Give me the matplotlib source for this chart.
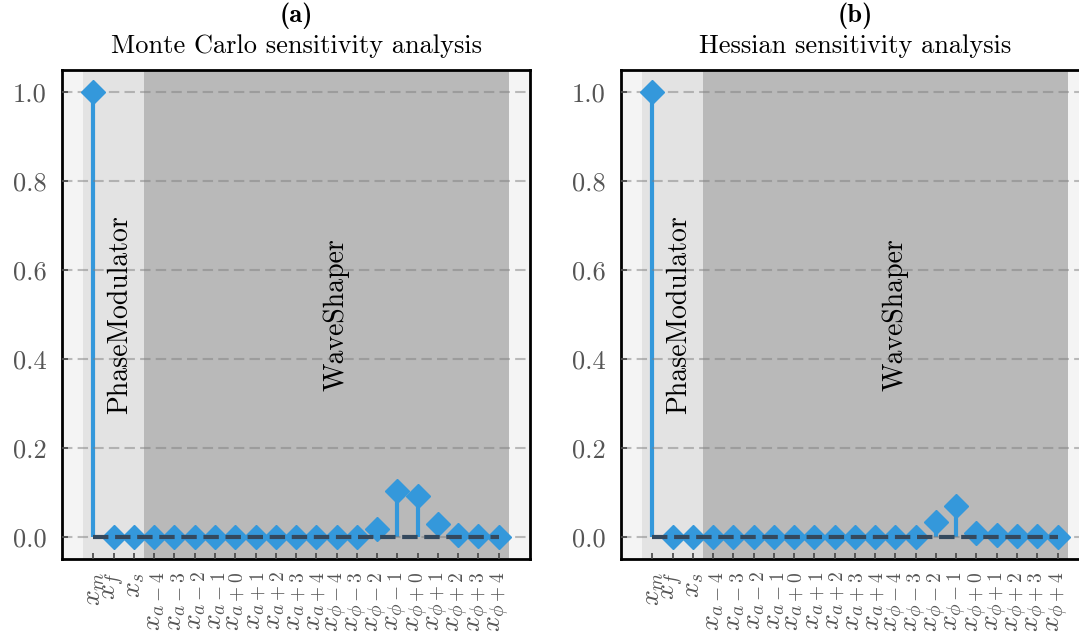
import matplotlib
matplotlib.use("Agg")
import matplotlib.pyplot as plt
import numpy as np

plt.rcParams['font.family'] = 'cmr10'
plt.rcParams['mathtext.fontset'] = 'cm'
plt.rcParams['axes.formatter.use_mathtext'] = True

param_labels = [r'$x_m$', r'$x_f$', r'$x_s$',
                r'$x_{a-4}$', r'$x_{a-3}$', r'$x_{a-2}$', r'$x_{a-1}$', r'$x_{a+0}$',
                r'$x_{a+1}$', r'$x_{a+2}$', r'$x_{a+3}$', r'$x_{a+4}$',
                r'$x_{\phi-4}$', r'$x_{\phi-3}$', r'$x_{\phi-2}$', r'$x_{\phi-1}$', r'$x_{\phi+0}$',
                r'$x_{\phi+1}$', r'$x_{\phi+2}$', r'$x_{\phi+3}$', r'$x_{\phi+4}$']

mc_sens = [1.0, 0.0, 0.0,
           0.0, 0.0, 0.0, 0.0, 0.0, 0.0, 0.0, 0.0, 0.0,
           0.0, 0.0, 0.017, 0.102, 0.091, 0.029, 0.004, 0.001, 0.0]
hess_sens = [1.0, 0.0, 0.0,
             0.0, 0.0, 0.0, 0.0, 0.0, 0.0, 0.0, 0.0, 0.0,
             0.0, 0.0, 0.034, 0.070, 0.008, 0.004, 0.002, 0.001, 0.0]

panel_tags = ['(a)', '(b)']
panel_titles = ['Monte Carlo sensitivity analysis', 'Hessian sensitivity analysis']

fig = plt.figure(figsize=(10.79, 6.37), dpi=100)
ax_a = fig.add_axes([0.0575, 0.1224, 0.4337, 0.7677])
ax_b = fig.add_axes([0.5755, 0.1224, 0.4337, 0.7677])

x = np.arange(len(param_labels))

for ax, vals, tag, title in zip([ax_a, ax_b], [mc_sens, hess_sens], panel_tags, panel_titles):
    ax.set_facecolor('#f4f4f4')
    ax.axvspan(-0.5, 2.5, color='#e3e3e3', zorder=0, lw=0)
    ax.axvspan(2.5, 20.5, color='#b9b9b9', zorder=0, lw=0)
    ax.grid(axis='y', color='gray', alpha=0.5, ls='--', lw=1.5, dashes=(5, 2.5), zorder=1)
    ax.set_axisbelow(False)

    markers, stems, base = ax.stem(x, vals, linefmt='-', markerfmt='D', basefmt='--')
    stems.set_color('#3498db')
    stems.set_linewidth(3)
    stems.set_zorder(2)
    markers.set_color('#3498db')
    markers.set_markersize(12.5)
    markers.set_zorder(3)
    base.set_color('#34495e')
    base.set_linewidth(3)
    base.set_zorder(4)

    ax.text(1.3, 0.5, 'PhaseModulator', rotation=90, ha='center', va='center', fontsize=20)
    ax.text(12.0, 0.5, 'WaveShaper', rotation=90, ha='center', va='center', fontsize=20)

    ax.set_xlim(-1.55, 21.55)
    ax.set_ylim(-0.05, 1.05)
    ax.set_xticks(x)
    ax.set_xticklabels(param_labels, rotation=90, fontsize=20, color='#555555')
    ax.set_yticks([0.0, 0.2, 0.4, 0.6, 0.8, 1.0])
    ax.set_yticklabels(['0.0', '0.2', '0.4', '0.6', '0.8', '1.0'], fontsize=19, color='#555555')
    ax.tick_params(axis='both', direction='in', length=4, width=1.2, color='#444444')
    ax.tick_params(axis='y', pad=11)
    ax.tick_params(axis='x', pad=9)
    for s in ax.spines.values():
        s.set_color('black')
        s.set_linewidth(2)
    ax.set_title(title, fontsize=19, pad=12)
    ax.text(0.5, 1.11, tag, transform=ax.transAxes, ha='center', va='center',
            fontsize=19, family='cmb10')

fig.savefig('out.png', dpi=100)
